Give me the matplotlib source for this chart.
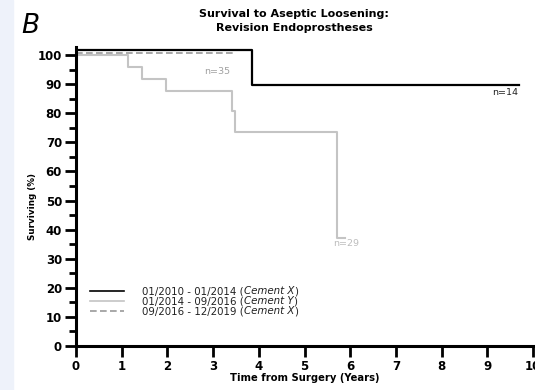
import matplotlib
matplotlib.use("Agg")
import matplotlib.pyplot as plt
from matplotlib.ticker import MultipleLocator

plt.rcParams['font.family'] = ['DejaVu Sans']

# Kaplan-Meier step data (as displayed)
black_t = [0, 3.86, 9.7]
black_s = [101.6, 89.7, 89.7]
gray_t = [0, 1.13, 1.45, 1.96, 3.41, 3.49, 5.72, 5.88]
gray_s = [100, 95.8, 91.8, 87.8, 80.9, 73.7, 37.1, 37.1]
dash_t = [0, 3.51]
dash_s = [100.8, 100.8]

legend_labels = [("01/2010 - 01/2014 (", "Cement X", ")"),
                 ("01/2014 - 09/2016 (", "Cement Y", ")"),
                 ("09/2016 - 12/2019 (", "Cement X", ")")]
n_labels = ["n=14", "n=29", "n=35"]

W, H = 535, 390
fig = plt.figure(figsize=(W/100, H/100), dpi=100)
fig.patches.append(plt.Rectangle((0, 0), 13/W, 1, transform=fig.transFigure,
                                 color='#eef2fa', zorder=0))

ax = fig.add_axes([76/W, 1-346/H, (533-76)/W, (346-47)/H])
ax.set_xlim(0, 10)
ax.set_ylim(0, 102.8)

ax.plot(black_t, black_s, drawstyle='steps-post', color='black', lw=1.6, zorder=3)
ax.plot(gray_t, gray_s, drawstyle='steps-post', color='#c4c4c4', lw=1.5, zorder=2)
ax.plot(dash_t, dash_s, drawstyle='steps-post', color='#9a9a9a', lw=1.2,
        ls=(0, (4, 2)), zorder=2)

nfs = 6.8
ax.text(9.67, 87.0, n_labels[0], ha='right', va='center', fontsize=nfs, color='#222222')
ax.text(5.9, 35.3, n_labels[1], ha='center', va='center', fontsize=nfs, color='#bdbdbd')
ax.text(3.1, 94.3, n_labels[2], ha='center', va='center', fontsize=nfs, color='#a0a0a0')

for sp in ['top', 'right']:
    ax.spines[sp].set_visible(False)
for sp in ['left', 'bottom']:
    ax.spines[sp].set_linewidth(2.2)

ax.xaxis.set_major_locator(MultipleLocator(1))
ax.yaxis.set_major_locator(MultipleLocator(10))
ax.yaxis.set_minor_locator(MultipleLocator(5))
ax.tick_params(axis='both', which='major', length=8, width=2, labelsize=8.5, pad=2)
ax.tick_params(axis='y', which='minor', length=5, width=2)
ax.set_xticks(range(11))
ax.set_xticklabels([str(i) for i in range(11)], fontweight='bold')
ax.set_yticks(range(0, 101, 10))
ax.set_yticklabels([str(i) for i in range(0, 101, 10)], fontweight='bold')

ax.set_xlabel("Time from Surgery (Years)", fontsize=7.2, fontweight='bold', labelpad=0)
ax.set_ylabel("Surviving (%)", fontsize=6.3, fontweight='bold', va='center')
ax.yaxis.set_label_coords(-0.096, 0.468)

fig.text(294/W, 1-14/H, "Survival to Aseptic Loosening:", ha='center', va='center',
         fontsize=8.0, fontweight='bold')
fig.text(294/W, 1-28/H, "Revision Endoprostheses", ha='center', va='center',
         fontsize=8.0, fontweight='bold')
fig.text(21/W, 1-26/H, "B", ha='left', va='center', fontsize=19, style='italic')

# legend (manual)
colors = ['black', '#c4c4c4', '#9a9a9a']
styles = ['-', '-', (0, (4, 2))]
ys = [291, 301, 311]
lfs = 7.4
for (pre, it, post), c, s, yy in zip(legend_labels, colors, styles, ys):
    yf = 1 - yy/H
    fig.add_artist(plt.Line2D([90/W, 124/W], [yf, yf], color=c, lw=1.2, ls=s,
                              transform=fig.transFigure))
    t1 = fig.text(142/W, yf, pre, ha='left', va='center', fontsize=lfs, color='#222222')
    fig.canvas.draw()
    r = fig.canvas.get_renderer()
    bb = t1.get_window_extent(r)
    t2 = fig.text(bb.x1/W, yf, it, ha='left', va='center', fontsize=lfs,
                  style='italic', color='#222222')
    bb2 = t2.get_window_extent(r)
    fig.text(bb2.x1/W, yf, post, ha='left', va='center', fontsize=lfs, color='#222222')

fig.savefig("out.png", dpi=100)
